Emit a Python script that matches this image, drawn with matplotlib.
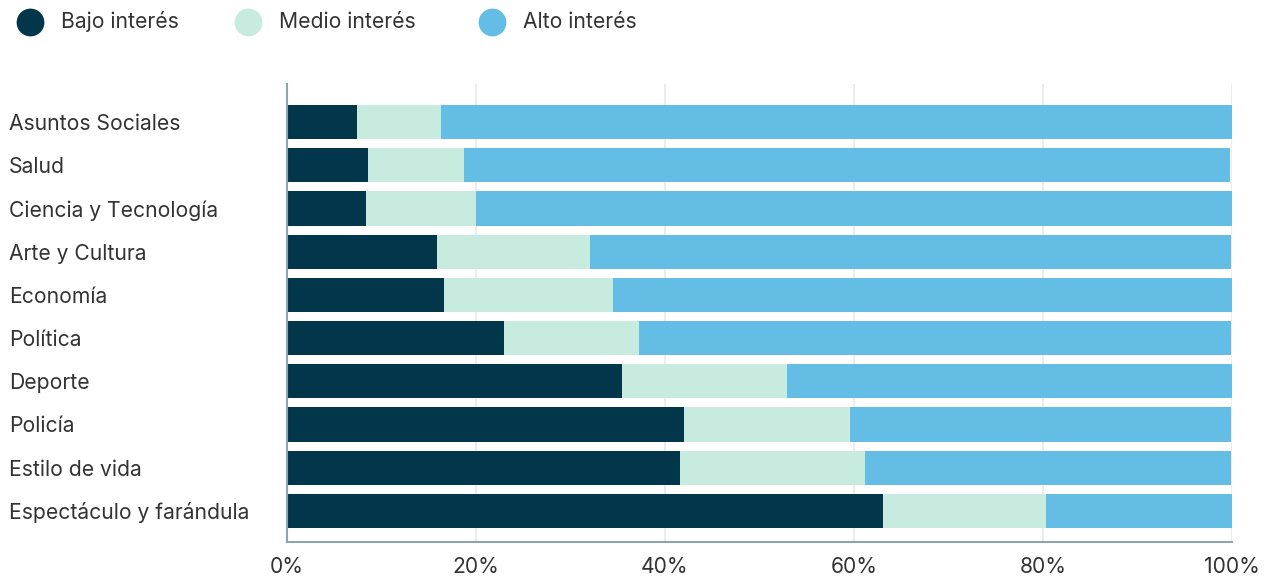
import matplotlib
matplotlib.use("Agg")
import matplotlib.pyplot as plt
from matplotlib.lines import Line2D

plt.rcParams['font.family'] = ['Inter', 'DejaVu Sans']

# datos (porcentajes)
categorias = [
    "Asuntos Sociales", "Salud", "Ciencia y Tecnología", "Arte y Cultura",
    "Economía", "Política", "Deporte", "Policía", "Estilo de vida",
    "Espectáculo y farándula",
]
bajo = [7.4, 8.6, 8.4, 15.9, 16.6, 23.0, 35.4, 42.0, 41.6, 63.1]
medio = [8.9, 10.1, 11.6, 16.2, 17.9, 14.2, 17.5, 17.6, 19.6, 17.2]
alto = [83.7, 81.1, 80.0, 67.8, 65.5, 62.7, 47.1, 40.3, 38.7, 19.7]

series = ["Bajo interés", "Medio interés", "Alto interés"]
colores = ["#02364a", "#c8ebe0", "#63bde4"]
texto = "#333333"

W, H = 1268, 579
fig = plt.figure(figsize=(W / 100, H / 100), dpi=100)
ax = fig.add_axes([287 / W, 1 - 542 / H, (1232 - 287) / W, (542 - 84) / H])

y = list(range(len(categorias)))
izq = [0] * len(categorias)
for vals, nombre, col in zip([bajo, medio, alto], series, colores):
    ax.barh(y, vals, left=izq, height=0.79, color=col, label=nombre, zorder=2)
    izq = [a + b for a, b in zip(izq, vals)]

ax.set_xlim(0, 100)
ax.set_ylim(9.72, -0.88)
ax.set_xticks([0, 20, 40, 60, 80, 100])
ax.set_xticklabels(["0%", "20%", "40%", "60%", "80%", "100%"])
ax.set_yticks(y)
ax.set_yticklabels(categorias)
for lab in ax.get_yticklabels():
    lab.set_ha("left")
ax.tick_params(axis="y", length=0, pad=(287 - 9) * 0.72, labelsize=15.2, labelcolor=texto)
ax.tick_params(axis="x", length=0, pad=11, labelsize=15.2, labelcolor=texto)

ax.grid(axis="x", color="#e6e9ec", linewidth=1.2, zorder=0)
for s in ["top", "right"]:
    ax.spines[s].set_visible(False)
for s in ["left", "bottom"]:
    ax.spines[s].set_color("#8fa3b0")
    ax.spines[s].set_linewidth(1.5)

# leyenda
leg_x = [30, 248, 492]
for xc, nombre, col in zip(leg_x, series, colores):
    fig.add_artist(Line2D([xc / W], [1 - 22 / H], marker="o", markersize=19,
                          color=col, linestyle="none", transform=fig.transFigure))
    fig.text((xc + 31) / W, 1 - 22 / H, nombre, ha="left", va="center",
             fontsize=15.2, color=texto)

fig.savefig("out.png", dpi=100)
